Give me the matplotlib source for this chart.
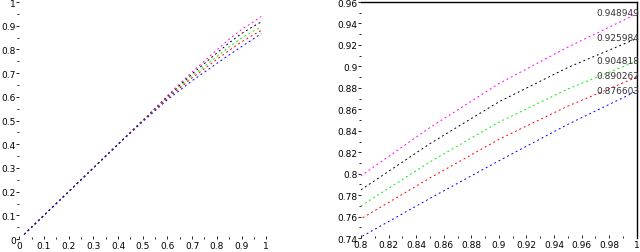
import matplotlib
matplotlib.use("Agg")
import matplotlib.pyplot as plt
from matplotlib.ticker import MultipleLocator, FuncFormatter

# x grid shared by all curves
x_vals = [0.02, 0.1, 0.2, 0.3, 0.4, 0.5, 0.6, 0.7, 0.8, 0.85, 0.9, 0.95, 1.0]

magenta_vals = [0.02, 0.1, 0.2, 0.3, 0.4, 0.5, 0.605, 0.705, 0.798, 0.843, 0.884, 0.918, 0.949]
black_vals   = [0.02, 0.1, 0.2, 0.3, 0.4, 0.5, 0.600, 0.697, 0.785, 0.828, 0.867, 0.899, 0.926]
green_vals   = [0.02, 0.1, 0.2, 0.3, 0.4, 0.5, 0.597, 0.688, 0.770, 0.811, 0.848, 0.879, 0.905]
red_vals     = [0.02, 0.1, 0.2, 0.3, 0.4, 0.5, 0.594, 0.680, 0.758, 0.796, 0.832, 0.863, 0.890]
blue_vals    = [0.02, 0.1, 0.2, 0.3, 0.4, 0.495, 0.588, 0.668, 0.741, 0.777, 0.812, 0.846, 0.877]

series = [
    (magenta_vals, "#ff00ff"),
    (black_vals, "black"),
    (green_vals, "#00ee00"),
    (red_vals, "#ff0000"),
    (blue_vals, "#0000ff"),
]

end_labels = ["0.948949", "0.925984", "0.904818", "0.890262", "0.876603"]
end_values = [0.948949, 0.925984, 0.904818, 0.890262, 0.876603]

fs = 6.5
fig = plt.figure(figsize=(6.4, 2.53), dpi=100)

def fmt(v, pos):
    return "%g" % round(v, 4)

# left panel: full range
ax1 = fig.add_axes([0.030, 0.051, 0.386, 0.937])
for vals, c in series:
    ax1.plot(x_vals[:-1] + [0.98], vals[:-1] + [vals[-1] - 0.01], color=c,
             linewidth=0.7, linestyle=(0, (2, 3)))
ax1.set_xlim(0, 1)
ax1.set_ylim(0, 1)
ax1.xaxis.set_major_locator(MultipleLocator(0.1))
ax1.yaxis.set_major_locator(MultipleLocator(0.1))
ax1.xaxis.set_minor_locator(MultipleLocator(0.05))
ax1.yaxis.set_minor_locator(MultipleLocator(0.05))
ax1.xaxis.set_major_formatter(FuncFormatter(fmt))
ax1.yaxis.set_major_formatter(FuncFormatter(fmt))
for s in ax1.spines.values():
    s.set_visible(False)

# right panel: zoom on upper end
ax2 = fig.add_axes([0.564, 0.055, 0.431, 0.933])
for vals, c in series:
    ax2.plot(x_vals, vals, color=c, linewidth=0.7, linestyle=(0, (2, 3)))
for lab, v in zip(end_labels, end_values):
    ax2.text(0.9705, v + 0.001, lab, fontsize=fs, ha="left", va="center",
             color="#333333", clip_on=False)
ax2.set_xlim(0.8, 1)
ax2.set_ylim(0.74, 0.96)
ax2.xaxis.set_major_locator(MultipleLocator(0.02))
ax2.yaxis.set_major_locator(MultipleLocator(0.02))
ax2.xaxis.set_minor_locator(MultipleLocator(0.01))
ax2.yaxis.set_minor_locator(MultipleLocator(0.01))
ax2.xaxis.set_major_formatter(FuncFormatter(fmt))
ax2.yaxis.set_major_formatter(FuncFormatter(fmt))
ax2.spines["left"].set_visible(False)
ax2.spines["bottom"].set_visible(False)
ax2.spines["top"].set_linewidth(1.0)
ax2.spines["right"].set_linewidth(1.0)

for ax in (ax1, ax2):
    ax.tick_params(which="major", length=2, width=0.6, labelsize=fs, pad=0.5)
    ax.tick_params(which="minor", length=1.5, width=0.6)
    ax.tick_params(axis="x", which="both", direction="in", pad=1.5)

fig.savefig("out.png", dpi=100)
